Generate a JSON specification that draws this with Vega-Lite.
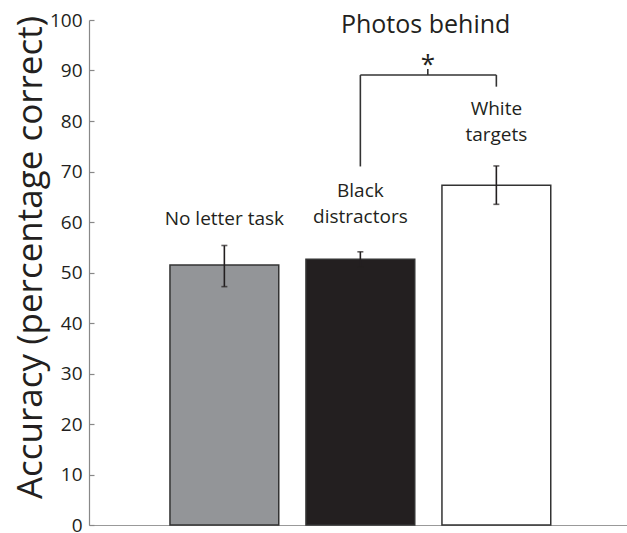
{
  "$schema": "https://vega.github.io/schema/vega-lite/v6.json",
  "width": 538,
  "height": 505,
  "autosize": {"type": "none"},
  "padding": {"left": 89, "top": 20, "right": 0, "bottom": 8},
  "config": {
    "view": {"stroke": null},
    "font": "Open Sans",
    "axis": {"grid": false}
  },
  "datasets": {
    "bars": [
      {"cond": "No letter task", "mean": 51.5, "lo": 47.2, "hi": 55.35},
      {"cond": "Black distractors", "mean": 52.6, "lo": 51.1, "hi": 54.1},
      {"cond": "White targets", "mean": 67.3, "lo": 63.5, "hi": 71.1}
    ],
    "labels": [
      {"cond": "No letter task", "y": 59.4, "text": "No letter task"},
      {"cond": "Black distractors", "y": 65.0, "text": "Black\ndistractors"},
      {"cond": "White targets", "y": 81.2, "text": "White\ntargets"}
    ],
    "bracket": [
      {"from": "Black distractors", "to": "Black distractors", "y1": 71.0, "y2": 89.1},
      {"from": "Black distractors", "to": "White targets", "y1": 89.1, "y2": 89.1},
      {"from": "White targets", "to": "White targets", "y1": 86.8, "y2": 89.1}
    ],
    "notes": [
      {"cond": "Black distractors", "y": 97.4, "text": "Photos behind"}
    ],
    "sig": [
      {"cond": "Black distractors", "y1": 89.1, "y2": 90.3, "ys": 89.6, "text": "*"}
    ]
  },
  "layer": [
    {
      "data": {"name": "bars"},
      "mark": {"type": "bar", "stroke": "#333333", "strokeWidth": 1.5},
      "encoding": {
        "x": {
          "field": "cond",
          "type": "nominal",
          "sort": ["No letter task", "Black distractors", "White targets"],
          "scale": {"domain": ["No letter task", "Black distractors", "White targets"], "paddingInner": 0.2, "paddingOuter": 0.578, "align": 0.515},
          "axis": {"title": null, "labels": false, "ticks": false, "domain": true, "domainColor": "#999999", "domainWidth": 1.2}
        },
        "y": {
          "field": "mean",
          "type": "quantitative",
          "scale": {"domain": [0, 100], "nice": false},
          "axis": {
            "values": [0, 10, 20, 30, 40, 50, 60, 70, 80, 90, 100],
            "title": "Accuracy (percentage correct)",
            "titleFontSize": 35,
            "titleFontWeight": "normal",
            "titleColor": "#231f20",
            "titleAngle": -90,
            "titleAlign": "center",
            "titleBaseline": "alphabetic",
            "titleX": -48,
            "titleY": 237,
            "labelFontSize": 19,
            "labelColor": "#231f20",
            "labelPadding": 12,
            "domainColor": "#888888",
            "domainWidth": 1.2,
            "tickColor": "#888888",
            "tickSize": -5,
            "tickWidth": 1.2
          }
        },
        "fill": {
          "field": "cond",
          "type": "nominal",
          "scale": {"domain": ["No letter task", "Black distractors", "White targets"], "range": ["#939598", "#231f20", "#ffffff"]},
          "legend": null
        }
      }
    },
    {
      "data": {"name": "bars"},
      "mark": {"type": "rule", "color": "#231f20", "strokeWidth": 1.6},
      "encoding": {
        "x": {"field": "cond", "type": "nominal"},
        "y": {"field": "lo", "type": "quantitative"},
        "y2": {"field": "hi"}
      }
    },
    {
      "data": {"name": "bars"},
      "mark": {"type": "tick", "color": "#231f20", "orient": "horizontal", "size": 6, "thickness": 1.6},
      "encoding": {
        "x": {"field": "cond", "type": "nominal"},
        "y": {"field": "lo", "type": "quantitative"}
      }
    },
    {
      "data": {"name": "bars"},
      "mark": {"type": "tick", "color": "#231f20", "orient": "horizontal", "size": 6, "thickness": 1.6},
      "encoding": {
        "x": {"field": "cond", "type": "nominal"},
        "y": {"field": "hi", "type": "quantitative"}
      }
    },
    {
      "mark": {"type": "rule", "color": "#333333", "strokeWidth": 1.3},
      "encoding": {"y": {"datum": 50, "type": "quantitative"}}
    },
    {
      "data": {"name": "labels"},
      "mark": {"type": "text", "fontSize": 19, "color": "#231f20", "align": "center", "baseline": "alphabetic", "lineBreak": "\n", "lineHeight": 26.5},
      "encoding": {
        "x": {"field": "cond", "type": "nominal"},
        "y": {"field": "y", "type": "quantitative"},
        "text": {"field": "text"}
      }
    },
    {
      "data": {"name": "notes"},
      "mark": {"type": "text", "fontSize": 25, "color": "#231f20", "align": "center", "baseline": "alphabetic"},
      "encoding": {
        "x": {"field": "cond", "type": "nominal", "bandPosition": 1.1},
        "y": {"field": "y", "type": "quantitative"},
        "text": {"field": "text"}
      }
    },
    {
      "data": {"name": "bracket"},
      "mark": {"type": "rule", "color": "#333333", "strokeWidth": 1.6},
      "encoding": {
        "x": {"field": "from", "type": "nominal"},
        "x2": {"field": "to"},
        "y": {"field": "y1", "type": "quantitative"},
        "y2": {"field": "y2"}
      }
    },
    {
      "data": {"name": "sig"},
      "mark": {"type": "rule", "color": "#333333", "strokeWidth": 1.6},
      "encoding": {
        "x": {"field": "cond", "type": "nominal", "bandPosition": 1.12},
        "y": {"field": "y1", "type": "quantitative"},
        "y2": {"field": "y2"}
      }
    },
    {
      "data": {"name": "sig"},
      "mark": {"type": "text", "fontSize": 26, "color": "#231f20", "align": "center", "baseline": "alphabetic"},
      "encoding": {
        "x": {"field": "cond", "type": "nominal", "bandPosition": 1.12},
        "y": {"field": "ys", "type": "quantitative"},
        "text": {"field": "text"}
      }
    }
  ]
}
